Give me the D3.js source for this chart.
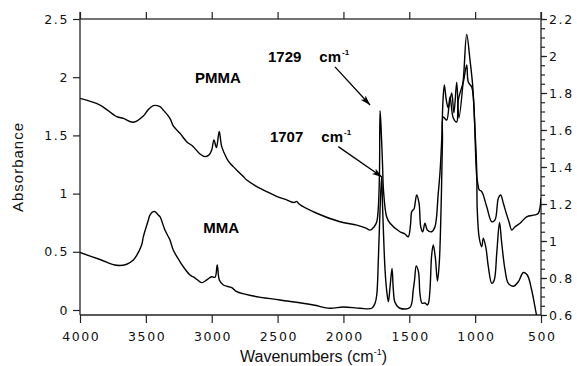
<!DOCTYPE html>
<html><head><meta charset="utf-8">
<script src="https://cdn.jsdelivr.net/npm/d3@7"></script>
<style>body{margin:0;background:#fff}svg{display:block}</style>
</head><body><svg id="c" width="577" height="366"></svg>
<script>
// ---- data (wavenumber cm-1, absorbance) ----
const pmmaWn = [4000,3848,3721,3671,3595,3519,3484,3444,3393,3368,3317,3292,3241,3190,3140,3089,3051,3021,3000,2983,2964,2943,2924,2886,2861,2836,2760,2734,2664,2583,2512,2431,2375,2355,2337,2203,2026,1899,1829,1798,1768,1747,1734,1726,1722,1715,1703,1696,1672,1646,1571,1533,1508,1491,1482,1472,1464,1444,1426,1413,1398,1381,1363,1330,1305,1280,1267,1254,1244,1234,1219,1204,1178,1161,1140,1123,1090,1064,1039,1019,1005,988,978,969,950,912,874,849,824,806,786,760,743,722,697,659,609,546,520,500];
const pmmaAbs = [1.771,1.735,1.672,1.663,1.642,1.676,1.708,1.732,1.726,1.708,1.663,1.622,1.582,1.537,1.510,1.470,1.456,1.465,1.492,1.546,1.505,1.592,1.510,1.447,1.420,1.402,1.348,1.330,1.297,1.267,1.243,1.222,1.208,1.214,1.200,1.150,1.104,1.086,1.070,1.059,1.076,1.104,1.195,1.384,1.704,1.627,1.411,1.276,1.131,1.096,1.050,1.038,1.023,1.086,1.158,1.168,1.173,1.249,1.205,1.077,1.050,1.096,1.059,1.050,1.077,1.259,1.368,1.546,1.762,1.843,1.762,1.719,1.800,1.692,1.859,1.665,1.870,2.117,1.978,1.843,1.654,1.348,1.303,1.276,1.267,1.185,1.104,1.114,1.231,1.249,1.204,1.141,1.104,1.059,1.077,1.096,1.131,1.141,1.150,1.232];
const mmaWn = [4000,3848,3721,3645,3595,3582,3532,3519,3481,3469,3444,3431,3406,3393,3355,3317,3292,3241,3216,3165,3140,3114,3076,3038,3000,2975,2958,2942,2912,2848,2810,2684,2482,2229,2102,2001,1874,1785,1760,1747,1735,1722,1710,1702,1684,1672,1659,1646,1631,1621,1608,1571,1495,1470,1460,1447,1430,1419,1403,1381,1363,1354,1343,1330,1318,1303,1286,1272,1259,1254,1248,1242,1216,1191,1166,1140,1128,1090,1064,1052,1026,1014,1001,988,984,969,950,938,918,900,874,855,836,815,798,773,748,710,672,634,604,571,546,533];
const mmaAbs = [0.494,0.434,0.384,0.393,0.430,0.447,0.558,0.630,0.773,0.816,0.845,0.845,0.816,0.802,0.687,0.601,0.515,0.415,0.372,0.301,0.284,0.264,0.235,0.258,0.286,0.281,0.387,0.258,0.215,0.192,0.157,0.120,0.086,0.043,0.015,0.026,0.015,0.015,0.058,0.129,0.430,0.859,1.145,0.859,0.344,0.172,0.071,0.200,0.357,0.172,0.064,0.015,0.021,0.172,0.258,0.378,0.326,0.143,0.058,0.060,0.043,0.060,0.172,0.473,0.558,0.458,0.249,0.412,0.859,1.117,1.460,1.658,1.632,1.830,1.649,1.615,1.804,1.959,2.105,1.959,1.916,1.830,1.546,1.203,0.859,0.619,0.544,0.616,0.533,0.372,0.229,0.258,0.487,0.752,0.573,0.344,0.229,0.204,0.243,0.322,0.301,0.172,0.028,-0.052];

const xTicks = [4000,3500,3000,2500,2000,1500,1000,500];
const leftTicks = [0,0.5,1,1.5,2,2.5];
const leftTickLabels = ["0","0.5","1","1.5","2","2.5"];
const rightTicks = [0.6,0.8,1,1.2,1.4,1.6,1.8,2,2.2];
const rightTickLabels = ["0.6","0.8","1","1.2","1.4","1.6","1.8","2","2.2"];

// series labels (position in data units)
const seriesLabels = [
  {text:"PMMA", wn:3127, v:1.852, axis:"right"},
  {text:"MMA",  wn:3064, v:0.664, axis:"left"}
];
// peak annotations (right-axis units)
const peakNotes = [
  {peak:"1729", wn:2573, v:1.969, fromWn:2064, fromV:1.941, toWn:1798, toV:1.735},
  {peak:"1707", wn:2558, v:1.537, fromWn:2039, fromV:1.510, toWn:1707, toV:1.346}
];

// ---- layout ----
const L = 80, R = 541, T = 19, B = 315;
const svg = d3.select("#c");
const x = d3.scaleLinear().domain([4000,500]).range([L,R]);
const yL = d3.scaleLinear().domain([0,2.5]).range([310,T]);
const yR = d3.scaleLinear().domain([0.6,2.2]).range([B,T]);

const tickFont = "'DejaVu Sans', sans-serif";

svg.append("defs").append("clipPath").attr("id","plot")
  .append("rect").attr("x",L).attr("y",T).attr("width",R-L).attr("height",B-T);
svg.select("defs").append("marker").attr("id","ah")
  .attr("markerUnits","userSpaceOnUse").attr("markerWidth",10).attr("markerHeight",7)
  .attr("refX",10).attr("refY",3.2).attr("orient","auto")
  .append("path").attr("d","M0,0 L10,3.2 L0,6.4 L2.5,3.2 Z").attr("fill","#000");

// frame lines
const frame = svg.append("g").attr("stroke","#222").attr("stroke-width",1.3);
frame.append("line").attr("x1",L).attr("x2",L).attr("y1",12).attr("y2",B);
frame.append("line").attr("x1",R).attr("x2",R).attr("y1",12).attr("y2",B);
frame.append("line").attr("x1",L).attr("x2",R).attr("y1",B).attr("y2",B);
frame.append("line").attr("x1",L).attr("x2",R).attr("y1",T).attr("y2",T).attr("stroke","#444");

function styleAxis(g){
  g.select(".domain").remove();
  g.selectAll(".tick line").attr("stroke","#222").attr("stroke-width",1.2);
  g.selectAll(".tick text").attr("fill","#111").style("font-family",tickFont)
   .style("font-size","12.5px").style("letter-spacing","1.6px");
}

// bottom axis
const gB = svg.append("g").attr("transform",`translate(0,${B})`)
  .call(d3.axisBottom(x).tickValues(xTicks).tickSize(8).tickPadding(9).tickFormat(d3.format("d")));
styleAxis(gB);
gB.selectAll(".tick text").attr("dx","0.8px");
// top axis
const gT = svg.append("g").attr("transform",`translate(0,${T})`)
  .call(d3.axisTop(x).tickValues(xTicks).tickSize(7).tickFormat(""));
styleAxis(gT);
// left axis
const gL = svg.append("g").attr("transform",`translate(${L},0)`)
  .call(d3.axisLeft(yL).tickValues(leftTicks).tickSize(7).tickPadding(4)
    .tickFormat((d,i)=>leftTickLabels[i]));
styleAxis(gL);
// right axis, minor then major
const minor = d3.range(0,33).map(i=>0.6+i*0.05);
const gRm = svg.append("g").attr("transform",`translate(${R},0)`)
  .call(d3.axisRight(yR).tickValues(minor).tickSize(4).tickFormat(""));
styleAxis(gRm);
const gR = svg.append("g").attr("transform",`translate(${R},0)`)
  .call(d3.axisRight(yR).tickValues(rightTicks).tickSize(6).tickPadding(2)
    .tickFormat((d,i)=>rightTickLabels[i]));
styleAxis(gR);

// curves
const plot = svg.append("g").attr("clip-path","url(#plot)");
const curve = d3.curveCatmullRom.alpha(0.5);
const lineR = d3.line().curve(curve).x(d=>x(d[0])).y(d=>yR(d[1]));
const lineL = d3.line().curve(curve).x(d=>x(d[0])).y(d=>yL(d[1]));
plot.append("path").datum(pmmaWn.map((w,i)=>[w,pmmaAbs[i]]))
  .attr("d",lineR).attr("fill","none").attr("stroke","#000").attr("stroke-width",1.4)
  .attr("stroke-linejoin","round");
plot.append("path").datum(mmaWn.map((w,i)=>[w,mmaAbs[i]]))
  .attr("d",lineL).attr("fill","none").attr("stroke","#000").attr("stroke-width",1.4)
  .attr("stroke-linejoin","round");

// series labels
const labFont = "'Liberation Sans', Arial, sans-serif";
seriesLabels.forEach(s=>{
  svg.append("text").attr("x",x(s.wn)).attr("y",(s.axis==="right"?yR:yL)(s.v))
    .text(s.text).style("font-family",labFont).style("font-weight","bold")
    .style("font-size","15px").attr("fill","#000");
});

// peak annotations
peakNotes.forEach(p=>{
  const t = svg.append("text").attr("x",x(p.wn)).attr("y",yR(p.v))
    .style("font-family",labFont).style("font-weight","bold").style("font-size","15px").attr("fill","#000");
  t.append("tspan").text(p.peak);
  t.append("tspan").attr("dx",18).text("cm");
  t.append("tspan").attr("dx",1).attr("dy",-7).style("font-size","8px").text("-1");
  svg.append("line").attr("x1",x(p.fromWn)).attr("y1",yR(p.fromV))
    .attr("x2",x(p.toWn)).attr("y2",yR(p.toV))
    .attr("stroke","#000").attr("stroke-width",1.3).attr("marker-end","url(#ah)");
});

// axis titles
const xt = svg.append("text").attr("x",240).attr("y",362)
  .style("font-family",labFont).style("font-size","16px").attr("fill","#111");
xt.append("tspan").text("Wavenumbers (cm");
xt.append("tspan").attr("dy",-7).style("font-size","9px").text("-1");
xt.append("tspan").attr("dy",7).text(")");

svg.append("text").attr("transform","translate(23,167.5) rotate(-90)")
  .attr("text-anchor","middle").style("font-family",labFont).style("font-size","15px")
  .attr("textLength",89).attr("lengthAdjust","spacing").attr("fill","#111").text("Absorbance");
</script>
</body></html>
